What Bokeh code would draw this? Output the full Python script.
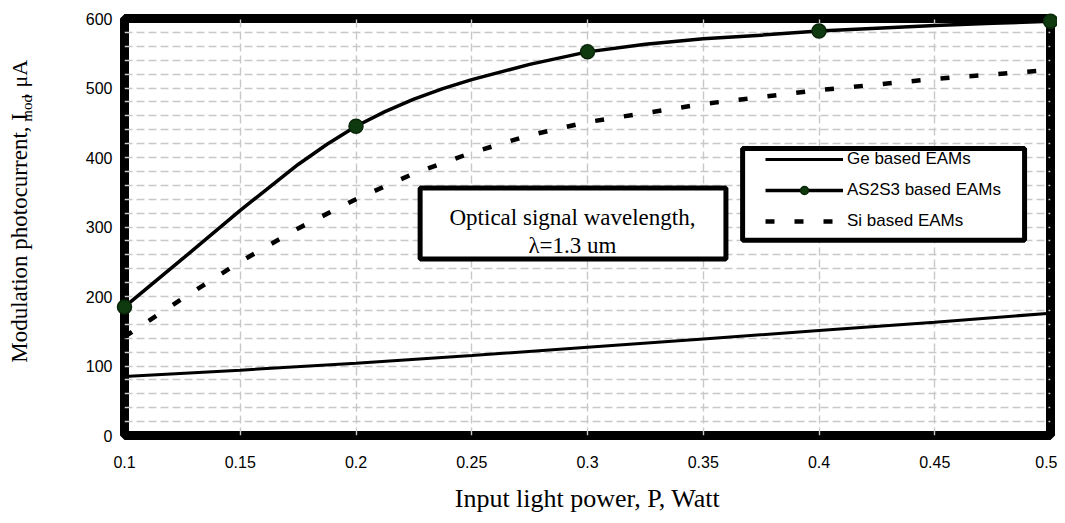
import math
from bokeh.plotting import figure
from bokeh.layouts import row
from bokeh.models import (Range1d, FixedTicker, Legend, LegendItem,
                          BoxAnnotation, Label)
from bokeh.embed import file_html
from bokeh.resources import INLINE

# ---------------- data ----------------
power_ge = [0.1, 0.15, 0.2, 0.25, 0.3, 0.35, 0.4, 0.45, 0.5]
current_ge = [85, 94, 104, 115, 127, 139, 151, 163, 176]

power_as = [0.1, 0.125, 0.15, 0.175, 0.1875, 0.2, 0.2125, 0.225, 0.2375,
            0.25, 0.275, 0.3, 0.325, 0.35, 0.375, 0.4, 0.425, 0.45,
            0.475, 0.5]
current_as = [185, 254, 324, 390, 419, 445, 466, 484, 499,
              512, 534, 552, 563, 571, 576, 582, 586, 590,
              593, 596]

marker_power = [0.1, 0.2, 0.3, 0.4, 0.5]
marker_current = [185, 445, 552, 582, 596]

power_si = [0.1, 0.125, 0.15, 0.175, 0.2, 0.225, 0.25, 0.275, 0.3,
            0.35, 0.4, 0.45, 0.5]
current_si = [142, 197, 250, 298, 340, 377, 407, 432, 451,
              477, 497, 513, 526]

x_tick_values = [0.1, 0.15, 0.2, 0.25, 0.3, 0.35, 0.4, 0.45, 0.5]
x_tick_labels = ["0.1", "0.15", "0.2", "0.25", "0.3", "0.35", "0.4", "0.45", "0.5"]
y_tick_values = [0, 100, 200, 300, 400, 500, 600]

series_names = ["Ge based EAMs", "AS2S3 based EAMs", "Si based EAMs"]
y_label_parts = ["Modulation photocurrent, I", "mod", ", \u03bcA"]
x_label = "Input light power, P, Watt"
note_lines = ["Optical signal wavelength,", "\u03bb=1.3 um"]

SERIF = "Liberation Serif"
SANS = "Liberation Sans"
H = 515
LAB_W = 45

# ---------------- narrow strip carrying the y-axis title ----------------
lab = figure(width=LAB_W, height=H, x_range=Range1d(0, LAB_W),
             y_range=Range1d(0, H), output_backend="svg",
             toolbar_location=None, min_border=0,
             x_axis_type=None, y_axis_type=None)
lab.outline_line_color = None
lab.background_fill_color = "white"
lab.border_fill_color = "white"
for txt, lx, ly, fs in [(y_label_parts[0], 18.5, H - 271, "23px"),
                        (y_label_parts[1], 26, H - 111, "15px"),
                        (y_label_parts[2], 18.5, H - 75, "22px")]:
    lab.add_layout(Label(x=lx, y=ly, text=txt, angle=math.pi / 2,
                         text_align="center", text_baseline="middle",
                         text_font=SERIF, text_font_size=fs,
                         text_color="black"))

# ---------------- main chart ----------------
p = figure(width=1057 - LAB_W, height=H,
           x_range=Range1d(0.1, 0.5), y_range=Range1d(0, 600),
           output_backend="svg", toolbar_location=None,
           min_border_left=124 - LAB_W, min_border_right=7,
           min_border_top=18, min_border_bottom=74)

p.background_fill_color = "white"
p.border_fill_color = "white"
p.outline_line_color = "black"
p.outline_line_width = 9

# grid
p.xgrid.ticker = FixedTicker(ticks=x_tick_values[1:-1])
p.ygrid.ticker = FixedTicker(ticks=list(range(20, 600, 20)))
for g in (p.xgrid, p.ygrid):
    g.grid_line_color = "#c8c8c8"
    g.grid_line_width = 1.4
    g.grid_line_dash = "8 4"

# axes
p.xaxis.ticker = FixedTicker(ticks=x_tick_values)
p.xaxis.major_label_overrides = {v: s for v, s in zip(x_tick_values, x_tick_labels)}
p.yaxis.ticker = FixedTicker(ticks=y_tick_values)
for ax in (p.xaxis, p.yaxis):
    ax.axis_line_color = None
    ax.major_tick_line_color = None
    ax.minor_tick_line_color = None
    ax.major_tick_out = 0
    ax.major_tick_in = 0
    ax.major_label_text_font = SANS
    ax.major_label_text_font_size = "16px"
    ax.major_label_text_color = "black"
p.xaxis.major_label_standoff = 20
p.yaxis.major_label_standoff = 12
p.xaxis.axis_label = x_label
p.xaxis.axis_label_text_font = SERIF
p.xaxis.axis_label_text_font_size = "26px"
p.xaxis.axis_label_text_font_style = "normal"
p.xaxis.axis_label_text_color = "black"
p.xaxis.axis_label_standoff = 13

# series
r_ge = p.line(power_ge, current_ge, line_width=3, line_color="black")
r_as = p.line(power_as, current_as, line_width=3.5, line_color="black",
              line_join="round")
r_as_m = p.scatter(marker_power, marker_current, size=14,
                   fill_color="#0f3a0f", line_color="#0a260a",
                   line_width=1.5, level="overlay")
r_si = p.line(power_si, current_si, line_width=4.5, line_color="black",
              line_dash="9 20")

# legend frame
legend_box = BoxAnnotation(left=0.367, right=0.4888, bottom=281, top=413,
                           fill_color="white", fill_alpha=1.0,
                           line_color="black", line_alpha=1.0, line_width=5)
p.add_layout(legend_box)

legend = Legend(items=[
    LegendItem(label=series_names[0], renderers=[r_ge]),
    LegendItem(label=series_names[1], renderers=[r_as, r_as_m]),
    LegendItem(label=series_names[2], renderers=[r_si]),
], location=(636, 199), padding=5, spacing=11, margin=0,
    glyph_width=78, glyph_height=20, label_height=20, label_standoff=4,
    label_text_font=SANS, label_text_font_size="17px",
    label_text_color="black",
    border_line_alpha=0, background_fill_alpha=0)
p.add_layout(legend)

# annotation box
note_box = BoxAnnotation(left=0.2277, right=0.3598, bottom=254, top=356,
                         fill_color="white", fill_alpha=1.0,
                         line_color="black", line_alpha=1.0, line_width=5)
p.add_layout(note_box)
p.add_layout(Label(x=0.2935, y=313, text=note_lines[0],
                   text_align="center", text_baseline="middle",
                   text_font=SERIF, text_font_size="23px", text_color="black"))
p.add_layout(Label(x=0.2935, y=274, text=note_lines[1],
                   text_align="center", text_baseline="middle",
                   text_font=SERIF, text_font_size="23px", text_color="black"))

layout = row(lab, p, spacing=0)
open("out.html", "w").write(file_html(layout, INLINE))
